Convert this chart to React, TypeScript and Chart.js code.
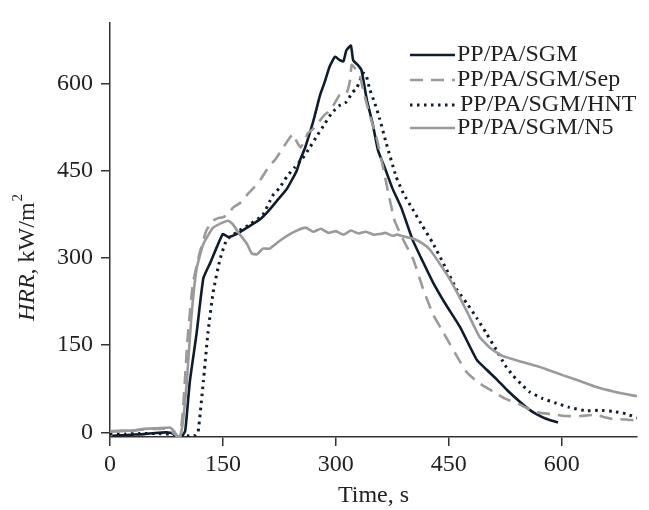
import React, { useEffect, useRef } from "react";
import { Chart, registerables } from "chart.js";

Chart.register(...registerables);

const FONT = '"Liberation Serif", "Times New Roman", serif';

const xTicks = [0, 150, 300, 450, 600];
const yTicks = [0, 150, 300, 450, 600];
const seriesNames = ["PP/PA/SGM", "PP/PA/SGM/Sep", "PP/PA/SGM/HNT", "PP/PA/SGM/N5"];

const sgmTime = [3, 15, 30, 45, 60, 75, 84, 88, 92, 96, 100, 106, 115, 124, 133, 142, 150, 157, 168, 182, 199, 210, 221, 235, 242, 248, 253, 259, 270, 279, 285, 292, 299, 305, 310, 314, 320, 323, 329, 334, 341, 349, 356, 365, 375, 387, 402, 415, 429, 445, 465, 487, 500, 513, 528, 544, 556, 567, 580, 595];
const sgmHrr = [-6, -5, -4, -3, -1, 0, -2, -7, -8, -6, 3, 87, 170, 265, 291, 319, 341, 336, 341, 352, 366, 380, 397, 419, 435, 450, 470, 489, 535, 580, 602, 630, 646, 640, 638, 657, 665, 640, 632, 623, 573, 530, 485, 455, 420, 386, 331, 295, 258, 222, 181, 125, 108, 92, 72, 53, 40, 31, 23, 17];

const sepTime = [0, 15, 30, 45, 60, 75, 82, 88, 93, 97, 103, 110, 119, 128, 137, 143, 150, 157, 163, 170, 177, 183, 190, 200, 210, 220, 230, 239, 243, 248, 253, 258, 263, 270, 278, 285, 290, 298, 305, 314, 319, 321, 326, 332, 336, 345, 354, 362, 370, 378, 390, 403, 415, 429, 440, 451, 462, 474, 490, 509, 525, 544, 565, 588, 605, 624, 645, 660, 668, 685, 700];
const sepHrr = [1, 2, 3, 5, 6, 6, 2, -6, -8, 40, 160, 255, 308, 347, 364, 368, 370, 375, 386, 392, 399, 410, 419, 435, 455, 470, 490, 507, 513, 500, 490, 500, 515, 522, 535, 546, 551, 565, 580, 582, 607, 632, 625, 613, 590, 546, 507, 460, 410, 364, 330, 297, 250, 203, 178, 153, 128, 103, 85, 70, 58, 48, 35, 31, 28, 28, 30, 25, 23, 22, 20];

const hntTime = [0, 20, 40, 60, 80, 90, 100, 110, 114, 117, 124, 130, 137, 146, 155, 168, 186, 203, 216, 225, 235, 245, 255, 265, 275, 285, 295, 305, 314, 322, 327, 332, 336, 340, 345, 352, 358, 367, 380, 390, 401, 415, 429, 445, 460, 475, 487, 500, 513, 525, 535, 547, 557, 575, 593, 610, 633, 650, 668, 685, 700];
const hntHrr = [-3, -3, -2, -2, -3, -5, -6, -6, -5, 0, 87, 170, 241, 297, 331, 344, 358, 374, 407, 420, 440, 455, 470, 489, 510, 530, 550, 562, 568, 585, 590, 605, 618, 615, 590, 565, 540, 497, 440, 410, 386, 355, 325, 285, 247, 220, 197, 170, 142, 115, 98, 82, 70, 58, 50, 43, 37, 38, 36, 32, 25];

const n5Time = [0, 15, 30, 45, 60, 75, 80, 85, 90, 93, 97, 102, 108, 115, 124, 137, 150, 157, 163, 172, 182, 188, 195, 203, 212, 226, 239, 250, 260, 270, 280, 290, 300, 310, 320, 330, 340, 350, 358, 366, 375, 381, 390, 403, 415, 425, 438, 451, 462, 474, 491, 505, 522, 545, 567, 585, 602, 625, 646, 670, 700];
const n5Hrr = [2, 3, 3, 6, 7, 8, 8, 2, -7, -8, 20, 87, 197, 281, 324, 352, 361, 364, 358, 341, 324, 308, 306, 316, 316, 330, 341, 348, 352, 345, 350, 343, 346, 340, 347, 342, 345, 340, 341, 343, 338, 340, 337, 333, 325, 314, 290, 264, 238, 208, 164, 145, 131, 122, 114, 106, 98, 88, 78, 70, 62];

const DARK = "#0f1c2c";
const GRAY = "#9a9a9a";

const styles = [
  { color: DARK, dash: [] as number[], width: 2.6 },
  { color: GRAY, dash: [13, 8], width: 2.6 },
  { color: DARK, dash: [2.5, 4.5], width: 3 },
  { color: GRAY, dash: [] as number[], width: 2.6 },
];

const toPts = (t: number[], v: number[]) => t.map((x, i) => ({ x, y: v[i] }));

const legendPlugin = {
  id: "customLegend",
  afterDraw(chart: any) {
    const ctx = chart.ctx as CanvasRenderingContext2D;
    const rowsY = [55, 80, 105, 128];
    ctx.save();
    chart.data.datasets.forEach((ds: any, i: number) => {
      const y = rowsY[i];
      ctx.beginPath();
      ctx.strokeStyle = ds.borderColor;
      ctx.lineWidth = ds.borderWidth;
      ctx.setLineDash(ds.borderDash || []);
      ctx.moveTo(410, y);
      ctx.lineTo(455, y);
      ctx.stroke();
      ctx.setLineDash([]);
      ctx.fillStyle = "#222";
      ctx.font = `24px ${FONT}`;
      ctx.textBaseline = "middle";
      ctx.textAlign = "left";
      ctx.fillText(ds.label, i === 2 ? 460 : 457, y);
    });
    ctx.restore();
  },
};

const yTitlePlugin = {
  id: "yTitle",
  afterDraw(chart: any) {
    const ctx = chart.ctx as CanvasRenderingContext2D;
    ctx.save();
    ctx.translate(26, 258);
    ctx.rotate(-Math.PI / 2);
    ctx.fillStyle = "#222";
    ctx.textBaseline = "alphabetic";
    ctx.textAlign = "left";
    const fItal = `italic 24px ${FONT}`;
    const fNorm = `24px ${FONT}`;
    const fSup = `15px ${FONT}`;
    const p1 = "HRR";
    const p2 = ", kW/m";
    const p3 = "2";
    ctx.font = fItal;
    const w1 = ctx.measureText(p1).width;
    ctx.font = fNorm;
    const w2 = ctx.measureText(p2).width;
    ctx.font = fSup;
    const w3 = ctx.measureText(p3).width;
    let x = -(w1 + w2 + w3) / 2;
    const base = 8;
    ctx.font = fItal;
    ctx.fillText(p1, x, base);
    x += w1;
    ctx.font = fNorm;
    ctx.fillText(p2, x, base);
    x += w2;
    ctx.font = fSup;
    ctx.fillText(p3, x + 1, base - 12);
    ctx.restore();
  },
};

export default function App() {
  const ref = useRef<HTMLCanvasElement>(null);
  useEffect(() => {
    document.body.style.margin = "0";
    const canvas = ref.current!;
    const series = [
      toPts(sgmTime, sgmHrr),
      toPts(sepTime, sepHrr),
      toPts(hntTime, hntHrr),
      toPts(n5Time, n5Hrr),
    ];
    const order = [3, 1, 2, 0];
    const chart = new Chart(canvas, {
      type: "line",
      data: {
        datasets: seriesNames.map((name, i) => ({
          label: name,
          data: series[i],
          borderColor: styles[i].color,
          borderWidth: styles[i].width,
          borderDash: styles[i].dash,
          pointRadius: 0,
          fill: false,
          tension: 0.15,
          order: order[i],
        })),
      },
      options: {
        animation: false,
        responsive: false,
        maintainAspectRatio: false,
        layout: { padding: { top: 8, right: 12, left: 0, bottom: 0 } },
        plugins: { legend: { display: false }, tooltip: { enabled: false } },
        scales: {
          x: {
            type: "linear",
            min: 0,
            max: 700,
            afterBuildTicks: (s: any) => {
              s.ticks = xTicks.map((v) => ({ value: v }));
            },
            afterFit: (s: any) => {
              s.height = 73;
            },
            grid: { drawOnChartArea: false, drawTicks: true, tickLength: 9, color: "#333", lineWidth: 1.5 },
            border: { display: true, color: "#333", width: 1.5 },
            ticks: { font: { family: FONT, size: 24 }, color: "#222", padding: 4, maxRotation: 0 },
            title: {
              display: true,
              text: "Time, s",
              font: { family: FONT, size: 24 },
              color: "#222",
              padding: { top: 0, bottom: 0 },
            },
          },
          y: {
            type: "linear",
            min: -8,
            max: 705,
            afterBuildTicks: (s: any) => {
              s.ticks = yTicks.map((v) => ({ value: v }));
            },
            afterFit: (s: any) => {
              s.width = 110;
            },
            grid: { drawOnChartArea: false, drawTicks: true, tickLength: 9, color: "#333", lineWidth: 1.5 },
            border: { display: true, color: "#333", width: 1.5 },
            ticks: { font: { family: FONT, size: 24 }, color: "#222", padding: 8 },
          },
        },
      },
      plugins: [legendPlugin, yTitlePlugin],
    });
    return () => chart.destroy();
  }, []);
  return <canvas ref={ref} width={649} height={510} style={{ display: "block" }} />;
}
